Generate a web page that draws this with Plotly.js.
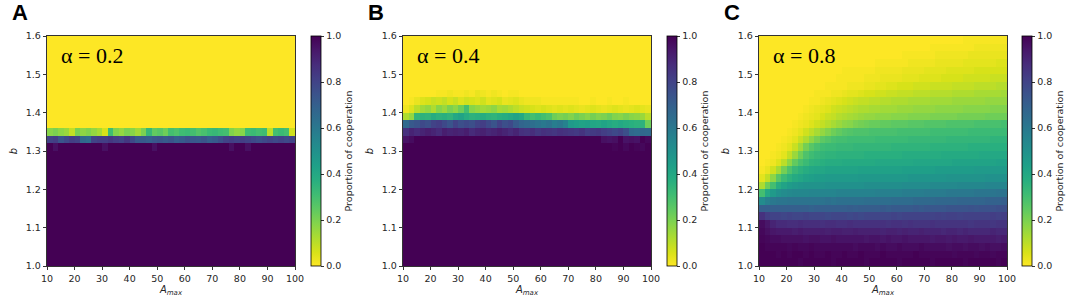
<!DOCTYPE html>
<html>
<head>
<meta charset="utf-8">
<script src="https://cdn.plot.ly/plotly-3.0.1.min.js"></script>
<style>html,body{margin:0;padding:0;background:#fff}#chart{width:1079px;height:299px}</style>
</head>
<body>
<div id="chart"></div>
<script>
// ---- data (values are proportion of cooperation, in percent) ----
const A_max = [11,13,15,17,19,21,23,25,27,29,31,33,35,37,39,41,43,45,47,49,51,53,55,57,59,61,63,65,67,69,71,73,75,77,79,81,83,85,87,89,91,93,95,97,99];
const b_vals = [1.01,1.03,1.05,1.07,1.09,1.11,1.13,1.15,1.17,1.19,1.21,1.23,1.25,1.27,1.29,1.31,1.33,1.35,1.37,1.39,1.41,1.43,1.45,1.47,1.49,1.51,1.53,1.55,1.57,1.59];
const xTicks = [10,20,30,40,50,60,70,80,90,100];
const yTicks = [1.0,1.1,1.2,1.3,1.4,1.5,1.6];
const cbTicks = [0,20,40,60,80,100];
const cbTickText = ['0.0','0.2','0.4','0.6','0.8','1.0'];
const panelLetters = ['A','B','C'];
const alphaLabels = ['α = 0.2','α = 0.4','α = 0.8'];

const ROW_FULL = [100,100,100,100,100,100,100,100,100,100,100,100,100,100,100,100,100,100,100,100,100,100,100,100,100,100,100,100,100,100,100,100,100,100,100,100,100,100,100,100,100,100,100,100,100];
const ROW_NONE = [0,0,0,0,0,0,0,0,0,0,0,0,0,0,0,0,0,0,0,0,0,0,0,0,0,0,0,0,0,0,0,0,0,0,0,0,0,0,0,0,0,0,0,0,0];

// Panel A (alpha = 0.2) transition rows
const A_r15 = [100,96,100,100,100, 100,100,100,100,100, 96,100,100,100,100, 100,100,100,100,96, 100,100,100,100,100, 100,100,100,100,100, 100,100,100,96,100, 100,96,100,100,100, 100,100,100,100,100];
const A_r16 = [80,82,74,78,82, 80,66,64,80,82, 82,84,82,80,84, 78,72,72,70,73, 74,72,74,70,72, 75,73,72,74,70, 72,76,80,82,80, 82,80,78,76,78, 80,78,80,78,80];
const A_r17 = [18,20,17,15,9, 20,17,19,16,13, 6,31,19,16,20, 18,14,20,33,24, 26,22,30,28,31, 32,30,27,29,32, 33,31,30,19,16, 18,31,32,30,31, 10,30,32,30,7];

// Panel B (alpha = 0.4) transition rows
const B_r15 = [100,100,100,100,100, 100,100,100,100,100, 100,100,100,100,100, 100,100,100,100,100, 100,100,100,100,100, 100,100,100,100,100, 100,100,100,100,100, 100,100,100,99,100, 98,100,99,98,100];
const B_r16 = [95,97,100,100,100, 100,100,100,100,100, 100,100,100,100,100, 100,100,100,100,100, 100,100,100,100,100, 100,100,100,100,100, 100,100,100,100,100, 100,96,95,96,100, 95,96,95,100,98];
const B_r17 = [86,90,88,90,92, 90,88,92,90,91, 90,92,88,90,91, 89,90,92,90,88, 90,86,85,87,84, 86,85,84,86,85, 84,83,85,82,83, 84,82,80,78,80, 76,66,65,67,66];
const B_r18 = [66,72,74,78,76, 80,82,78,74,80, 76,78,76,80,82, 78,74,80,76,78, 72,68,66,64,62, 60,62,58,60,56, 46,44,42,43,41, 40,42,40,38,40, 38,37,36,36,22];
const B_r19 = [12,16,34,36,35, 38,36,37,35,40, 42,38,36,37,38, 36,35,37,38,40, 42,40,33,30,32, 30,28,22,20,21, 19,22,20,18,21, 19,20,22,19,18, 20,18,17,15,10];
const B_r20 = [2,5,10,14,16, 12,18,15,20,17, 22,30,18,16,14, 15,17,13,14,12, 10,8,7,6,5, 6,5,4,5,4, 5,4,3,4,5, 4,3,4,5,4, 3,4,5,4,3];
const B_r21 = [0,1,3,5,6, 8,7,9,6,8, 5,7,6,5,7, 4,5,6,3,4, 5,3,2,2,2, 1,1,1,1,1, 1,1,0,0,1, 0,0,1,0,0, 1,0,0,0,0];
const B_r22 = [0,0,0,0,0, 0,1,1,2,1, 1,2,1,3,2, 1,2,1,0,1, 1,0,0,0,0, 0,0,0,0,0, 0,0,0,0,0, 0,0,0,0,0, 0,0,0,0,0];

// Panel C (alpha = 0.8), every row from b = 1.00 upward
const C_r00 = [100,100,100,100,100, 100,100,99,100,100, 100,100,100,99,100, 100,100,100,100,99, 100,100,100,100,100, 99,100,100,100,100, 100,99,100,100,100, 100,100,99,100,100, 100,100,100,99,100];
const C_r01 = [100,100,100,99,100, 99,100,100,99,100, 99,99,100,99,99, 100,99,99,100,99, 99,99,100,99,99, 99,99,99,100,99, 99,99,99,99,99, 98,99,99,99,98, 99,99,98,99,99];
const C_r02 = [100,99,99,99,99, 98,99,98,98,99, 98,98,98,98,98, 98,98,97,98,98, 98,97,98,97,97, 98,97,97,97,98, 97,97,97,97,96, 97,97,96,97,97, 96,97,96,96,97];
const C_r03 = [99,98,97,97,96, 96,96,96,95,96, 96,95,95,96,95, 95,95,95,95,94, 95,95,94,95,94, 94,95,94,94,94, 94,93,94,94,93, 94,93,93,94,93, 93,93,93,92,93];
const C_r04 = [98,96,94,93,93, 93,92,93,92,92, 92,92,91,92,92, 91,91,92,91,91, 91,91,90,91,91, 90,91,90,90,91, 90,90,90,89,90, 90,89,90,89,89, 89,89,90,89,89];
const C_r05 = [97,94,90,88,88, 87,87,88,87,87, 87,86,87,87,86, 86,87,86,86,86, 86,86,86,85,86, 86,85,86,85,85, 85,86,85,85,85, 85,85,85,84,85, 85,85,84,85,85];
const C_r06 = [86,82,80,80,79, 80,79,79,80,79, 79,79,78,79,79, 79,78,79,78,79, 79,79,79,79,80, 79,80,80,80,80, 80,80,81,80,81, 81,80,81,81,81, 81,81,82,81,82];
const C_r07 = [70,70,70,70,70, 70,70,70,70,69, 70,70,70,70,70, 70,71,70,71,71, 71,71,72,71,72, 72,72,72,73,72, 73,73,73,73,74, 74,74,74,75,74, 75,75,75,76,76];
const C_r08 = [52,57,60,61,61, 62,62,62,62,62, 62,62,63,62,63, 63,63,63,63,64, 64,64,64,64,65, 65,65,65,66,66, 66,66,67,67,67, 67,68,68,68,68, 68,69,69,69,70];
const C_r09 = [30,40,46,50,52, 53,54,54,54,55, 55,55,55,55,56, 56,56,56,56,56, 56,57,57,57,57, 57,58,58,58,58, 59,59,59,59,60, 60,60,60,60,61, 61,61,61,62,62];
const C_r10 = [12,22,30,38,42, 45,47,48,49,49, 49,49,50,50,50, 50,50,50,50,51, 51,51,51,51,51, 51,52,52,52,52, 52,53,53,53,53, 53,54,54,54,54, 54,55,55,55,55];
const C_r11 = [4,9,17,26,32, 36,39,41,43,44, 45,45,46,46,46, 46,46,46,47,47, 47,47,47,47,47, 47,47,48,48,48, 48,48,48,48,49, 49,49,49,49,49, 49,50,50,50,50];
const C_r12 = [1,3,7,13,21, 28,33,36,38,40, 41,41,42,42,42, 42,42,42,43,43, 43,43,43,43,43, 43,44,44,44,44, 44,44,45,45,45, 45,45,45,45,46, 46,46,46,46,46];
const C_r13 = [0,1,2,5,10, 17,24,29,32,35, 36,37,38,38,38, 39,39,39,39,39, 39,40,40,40,40, 40,40,40,41,41, 41,41,41,41,41, 42,42,42,42,42, 42,42,42,43,43];
const C_r14 = [0,0,1,2,4, 9,15,22,28,31, 33,34,35,35,36, 36,36,36,36,37, 37,37,37,37,37, 37,38,38,38,38, 38,38,38,39,39, 39,39,39,39,39, 40,40,40,40,40];
const C_r15 = [0,0,0,1,2, 4,8,14,21,26, 29,31,32,32,33, 33,33,34,34,34, 34,34,34,34,35, 35,35,35,35,35, 35,36,36,36,36, 36,36,36,37,37, 37,37,37,37,37];
const C_r16 = [0,0,0,0,1, 2,4,8,12,17, 21,25,27,29,30, 30,31,31,31,31, 31,32,32,32,32, 32,32,33,33,33, 33,33,33,33,34, 34,34,34,34,34, 34,34,35,35,35];
const C_r17 = [0,0,0,0,0, 1,2,4,7,10, 13,16,19,22,24, 26,27,28,28,28, 29,29,29,29,29, 30,30,30,30,30, 30,31,31,31,31, 31,31,31,32,32, 32,32,32,32,32];
const C_r18 = [0,0,0,0,0, 0,1,2,3,5, 7,9,11,13,15, 17,18,20,21,22, 23,23,24,24,25, 25,25,26,26,26, 27,27,27,27,28, 28,28,28,28,29, 29,29,29,29,30];
const C_r19 = [0,0,0,0,0, 0,0,1,2,3, 4,6,8,9,11, 12,13,14,15,16, 16,17,17,17,18, 18,18,19,19,19, 19,20,20,20,20, 20,21,21,21,21, 21,22,22,22,22];
const C_r20 = [0,0,0,0,0, 0,0,0,1,2, 3,4,5,7,8, 9,10,11,12,12, 13,13,14,14,14, 15,15,15,16,16, 16,16,17,17,17, 17,17,18,18,18, 18,18,19,19,19];
const C_r21 = [0,0,0,0,0, 0,0,0,0,1, 1,2,3,4,5, 6,7,8,9,9, 10,10,11,11,12, 12,12,13,13,13, 13,14,14,14,14, 15,15,15,15,15, 15,16,16,16,16];
const C_r22 = [0,0,0,0,0, 0,0,0,0,0, 1,1,1,2,2, 3,4,4,5,6, 6,7,7,8,8, 9,9,9,10,10, 10,11,11,11,11, 12,12,12,12,13, 13,13,13,13,14];
const C_r23 = [0,0,0,0,0, 0,0,0,0,0, 0,0,1,1,1, 1,2,2,2,3, 3,4,4,5,5, 6,6,6,7,7, 7,8,8,8,8, 9,9,9,9,10, 10,10,10,11,11];
const C_r24 = [0,0,0,0,0, 0,0,0,0,0, 0,0,0,0,1, 1,1,1,1,2, 2,2,3,3,3, 3,4,4,4,5, 5,5,5,6,6, 6,6,7,7,7, 7,7,8,8,8];
const C_r25 = [0,0,0,0,0, 0,0,0,0,0, 0,0,0,0,0, 1,1,1,1,1, 1,2,2,2,2, 2,3,3,3,3, 4,4,4,4,5, 5,5,5,5,6, 6,6,6,6,6];
const C_r26 = [0,0,0,0,0, 0,0,0,0,0, 0,0,0,0,0, 0,0,0,0,0, 0,1,1,1,1, 1,1,2,2,2, 2,2,3,3,3, 3,3,4,4,4, 4,4,4,5,5];
const C_r27 = [0,0,0,0,0, 0,0,0,0,0, 0,0,0,0,0, 0,0,0,0,0, 0,0,0,0,0, 0,1,1,1,1, 1,1,2,2,2, 2,2,2,3,3, 3,3,3,3,3];
const C_r28 = [0,0,0,0,0, 0,0,0,0,0, 0,0,0,0,0, 0,0,0,0,0, 0,0,0,0,0, 0,0,0,0,0, 0,1,1,1,1, 1,1,1,1,2, 2,2,2,2,2];
const C_r29 = [0,0,0,0,0, 0,0,0,0,0, 0,0,0,0,0, 0,0,0,0,0, 0,0,0,0,0, 0,0,0,0,0, 0,0,0,0,0, 0,0,1,1,1, 1,1,1,1,1];

const zA = [ROW_FULL,ROW_FULL,ROW_FULL,ROW_FULL,ROW_FULL,ROW_FULL,ROW_FULL,ROW_FULL,ROW_FULL,ROW_FULL,ROW_FULL,ROW_FULL,ROW_FULL,ROW_FULL,ROW_FULL,
  A_r15,A_r16,A_r17,
  ROW_NONE,ROW_NONE,ROW_NONE,ROW_NONE,ROW_NONE,ROW_NONE,ROW_NONE,ROW_NONE,ROW_NONE,ROW_NONE,ROW_NONE,ROW_NONE];
const zB = [ROW_FULL,ROW_FULL,ROW_FULL,ROW_FULL,ROW_FULL,ROW_FULL,ROW_FULL,ROW_FULL,ROW_FULL,ROW_FULL,ROW_FULL,ROW_FULL,ROW_FULL,ROW_FULL,ROW_FULL,
  B_r15,B_r16,B_r17,B_r18,B_r19,B_r20,B_r21,B_r22,
  ROW_NONE,ROW_NONE,ROW_NONE,ROW_NONE,ROW_NONE,ROW_NONE,ROW_NONE];
const zC = [C_r00,C_r01,C_r02,C_r03,C_r04,C_r05,C_r06,C_r07,C_r08,C_r09,C_r10,C_r11,C_r12,C_r13,C_r14,
  C_r15,C_r16,C_r17,C_r18,C_r19,C_r20,C_r21,C_r22,C_r23,C_r24,C_r25,C_r26,C_r27,C_r28,C_r29];

// ---- layout geometry (pixels) ----
const W = 1079, H = 299;
const plotLeft = [47, 403, 759], plotWidth = 248;
const plotTop = 36, plotBottom = 266;
const cbLeft = [311, 667, 1022];
const font = 'DejaVu Sans, Arial, sans-serif';
const txt = '#262626';

const panels = [zA, zB, zC];
const traces = panels.map((z, i) => ({
  type: 'heatmap',
  x: A_max, y: b_vals, z: z,
  xaxis: i === 0 ? 'x' : 'x' + (i + 1),
  yaxis: i === 0 ? 'y' : 'y' + (i + 1),
  zmin: 0, zmax: 100, zsmooth: false,
  colorscale: 'Viridis', reversescale: true,
  hovertemplate: 'A_max=%{x}<br>b=%{y}<br>%{z}%<extra></extra>',
  colorbar: {
    x: cbLeft[i] / W, xanchor: 'left', xpad: 0, ypad: 0,
    y: 1 - (plotTop + plotBottom) / 2 / H, yanchor: 'middle',
    len: plotBottom - plotTop, lenmode: 'pixels',
    thickness: 10, thicknessmode: 'pixels',
    outlinewidth: 0.8, outlinecolor: '#000',
    tickvals: cbTicks, ticktext: cbTickText,
    ticks: 'outside', ticklen: 3.5, tickwidth: 0.8, tickcolor: '#000',
    tickfont: {family: font, size: 9.5, color: txt},
    title: {text: 'Proportion of cooperation', side: 'right', font: {family: font, size: 9.5, color: txt}}
  }
}));

const layout = {
  width: W, height: H,
  margin: {l: 0, r: 0, t: 0, b: 0},
  paper_bgcolor: '#fff', plot_bgcolor: '#fff',
  showlegend: false,
  annotations: []
};
for (let i = 0; i < 3; i++) {
  const sx = i === 0 ? '' : String(i + 1);
  layout['xaxis' + sx] = {
    domain: [plotLeft[i] / W, (plotLeft[i] + plotWidth) / W],
    anchor: 'y' + sx, range: [10, 100],
    tickvals: xTicks, ticks: 'outside', ticklen: 3.5, tickwidth: 0.8, tickcolor: '#000',
    tickfont: {family: font, size: 9.5, color: txt},
    showline: true, linecolor: '#000', linewidth: 0.8, mirror: true,
    showgrid: false, zeroline: false, automargin: false,
    title: {text: '<i>A<sub>max</sub></i>', font: {family: font, size: 10, color: txt}, standoff: 2}
  };
  layout['yaxis' + sx] = {
    domain: [1 - plotBottom / H, 1 - plotTop / H],
    anchor: 'x' + sx, range: [1.0, 1.6],
    tickvals: yTicks, tickformat: '.1f', ticks: 'outside', ticklen: 3.5, tickwidth: 0.8, tickcolor: '#000',
    tickfont: {family: font, size: 9.5, color: txt},
    showline: true, linecolor: '#000', linewidth: 0.8, mirror: true,
    showgrid: false, zeroline: false, automargin: false,
    title: {text: '<i>b</i>', font: {family: font, size: 10, color: txt}, standoff: 6}
  };
  layout.annotations.push({
    xref: 'paper', yref: 'paper', x: (plotLeft[i] - 37) / W, y: 1 - 13 / H,
    xanchor: 'left', yanchor: 'middle', showarrow: false,
    text: '<b>' + panelLetters[i] + '</b>',
    font: {family: 'Liberation Sans, Arial, sans-serif', size: 22, color: '#000'}
  });
  layout.annotations.push({
    xref: 'paper', yref: 'paper', x: (plotLeft[i] + 12) / W, y: 1 - 55 / H,
    xanchor: 'left', yanchor: 'middle', showarrow: false,
    text: alphaLabels[i],
    font: {family: 'Liberation Serif, DejaVu Serif, serif', size: 22, color: '#000'}
  });
}

Plotly.newPlot('chart', traces, layout, {staticPlot: true, displayModeBar: false});
</script>
</body>
</html>
